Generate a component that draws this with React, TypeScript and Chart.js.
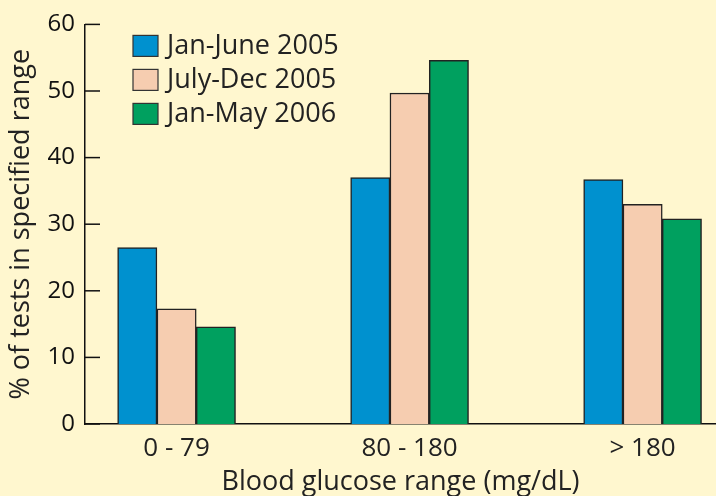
import React, { useEffect, useRef } from "react";
import { Chart, registerables } from "chart.js";

Chart.register(...registerables);

const categories = ["0 - 79", "80 - 180", "> 180"];
const seriesNames = ["Jan-June 2005", "July-Dec 2005", "Jan-May 2006"];
const janJune2005 = [26.5, 37.0, 36.7];
const julyDec2005 = [17.3, 49.7, 33.0];
const janMay2006 = [14.6, 54.6, 30.8];
const yTickValues = [0, 10, 20, 30, 40, 50, 60];

const seriesColors = ["#0091CF", "#F6CDB0", "#00A05F"];
const BG = "#FFF7CF";
const FONT = "'Open Sans', sans-serif";

const bgPlugin = {
  id: "bgFill",
  beforeDraw(chart: any) {
    const { ctx, width, height } = chart;
    ctx.save();
    ctx.fillStyle = BG;
    ctx.fillRect(0, 0, width, height);
    ctx.restore();
  },
};

const innerTicksPlugin = {
  id: "innerTicks",
  afterDraw(chart: any) {
    const { ctx, chartArea } = chart;
    const y = chart.scales.y;
    ctx.save();
    ctx.strokeStyle = "#111";
    ctx.lineWidth = 1.5;
    yTickValues.forEach((v) => {
      const py = y.getPixelForValue(v);
      ctx.beginPath();
      ctx.moveTo(chartArea.left, py);
      ctx.lineTo(chartArea.left + 15, py);
      ctx.stroke();
    });
    ctx.restore();
  },
};

const legendPlugin = {
  id: "customLegend",
  afterDraw(chart: any) {
    const { ctx, chartArea } = chart;
    const x0 = chartArea.left + 48;
    const y0 = chartArea.top + 11;
    const rowH = 34;
    ctx.save();
    ctx.font = `27px ${FONT}`;
    ctx.textBaseline = "middle";
    ctx.textAlign = "left";
    chart.data.datasets.forEach((ds: any, i: number) => {
      const by = y0 + i * rowH;
      ctx.fillStyle = ds.backgroundColor;
      ctx.fillRect(x0, by, 25, 21);
      ctx.strokeStyle = "#333";
      ctx.lineWidth = 1.2;
      ctx.strokeRect(x0, by, 25, 21);
      ctx.fillStyle = "#222";
      ctx.fillText(ds.label, x0 + 34, by + 11);
    });
    ctx.restore();
  },
};

export default function App() {
  const ref = useRef<HTMLCanvasElement | null>(null);

  useEffect(() => {
    document.body.style.margin = "0";
    const seriesValues = [janJune2005, julyDec2005, janMay2006];
    const chart = new Chart(ref.current as HTMLCanvasElement, {
      type: "bar",
      data: {
        datasets: seriesValues.map((vals, i) => ({
          label: seriesNames[i],
          data: vals.map((v, j) => ({ x: j, y: v })),
          backgroundColor: seriesColors[i],
          borderColor: "#222",
          borderWidth: 1.5,
          barThickness: 39.3,
        })),
      },
      options: {
        responsive: false,
        animation: false,
        layout: { padding: { top: 23, left: 0, right: 0, bottom: 0 } },
        plugins: { legend: { display: false }, tooltip: { enabled: false } },
        scales: {
          x: {
            type: "linear",
            offset: false,
            min: -0.393,
            max: 2.315,
            afterFit(scale: any) {
              scale.height = 72;
            },
            grid: { display: false, drawTicks: false, offset: false },
            border: { display: true, color: "#111", width: 1.5 },
            ticks: {
              stepSize: 1,
              includeBounds: false,
              autoSkip: false,
              maxRotation: 0,
              padding: 9,
              color: "#222",
              font: { family: FONT, size: 26 },
              callback: (v: any) =>
                Number.isInteger(v) && categories[v] !== undefined ? categories[v] : "",
            },
            title: {
              display: true,
              text: "Blood glucose range (mg/dL)",
              color: "#222",
              font: { family: FONT, size: 27 },
              padding: { top: 0, bottom: -3 },
            },
          },
          y: {
            min: 0,
            max: 60,
            afterFit(scale: any) {
              scale.width = 85;
            },
            afterBuildTicks(scale: any) {
              scale.ticks = yTickValues.map((v) => ({ value: v }));
            },
            grid: { display: false, drawTicks: false },
            border: { display: true, color: "#111", width: 1.5 },
            ticks: {
              padding: 10,
              color: "#111",
              font: { family: FONT, size: 24 },
            },
            title: {
              display: true,
              text: "% of tests in specified range",
              color: "#222",
              font: { family: FONT, size: 27 },
              padding: { top: 5, bottom: 0 },
            },
          },
        },
      },
      plugins: [bgPlugin, innerTicksPlugin, legendPlugin],
    } as any);
    return () => chart.destroy();
  }, []);

  return (
    <div style={{ width: 716, height: 496, background: BG }}>
      <canvas ref={ref} width={716} height={496} style={{ display: "block" }} />
    </div>
  );
}
